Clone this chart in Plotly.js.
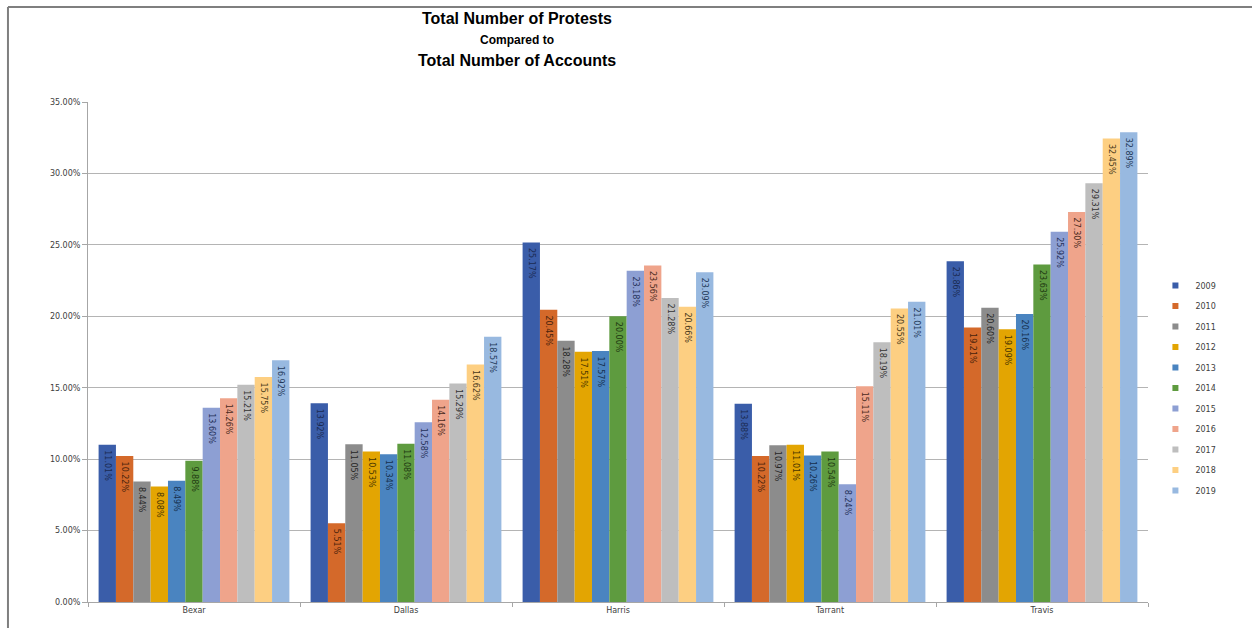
<!DOCTYPE html>
<html>
<head>
<meta charset="utf-8">
<script src="https://cdn.plot.ly/plotly-3.0.1.min.js"></script>
<style>
  html, body { margin: 0; padding: 0; background: #ffffff; }
  #chart { width: 1252px; height: 628px; }
</style>
</head>
<body>
<div id="chart"></div>
<script>
const counties = ["Bexar", "Dallas", "Harris", "Tarrant", "Travis"];
const years = ["2009", "2010", "2011", "2012", "2013", "2014", "2015", "2016", "2017", "2018", "2019"];

// Percent of accounts protested, per year, in county order above
const v2009 = [11.01, 13.92, 25.17, 13.88, 23.86];
const v2010 = [10.22, 5.51, 20.45, 10.22, 19.21];
const v2011 = [8.44, 11.05, 18.28, 10.97, 20.60];
const v2012 = [8.08, 10.53, 17.51, 11.01, 19.09];
const v2013 = [8.49, 10.34, 17.57, 10.26, 20.16];
const v2014 = [9.88, 11.08, 20.00, 10.54, 23.63];
const v2015 = [13.60, 12.58, 23.18, 8.24, 25.92];
const v2016 = [14.26, 14.16, 23.56, 15.11, 27.30];
const v2017 = [15.21, 15.29, 21.28, 18.19, 29.31];
const v2018 = [15.75, 16.62, 20.66, 20.55, 32.45];
const v2019 = [16.92, 18.57, 23.09, 21.01, 32.89];

const seriesValues = [v2009, v2010, v2011, v2012, v2013, v2014, v2015, v2016, v2017, v2018, v2019];
const colors = ["#3A5DA9", "#D4692A", "#8C8C8C", "#E3A502", "#4A84C0", "#5E9B3F",
                "#8D9FD3", "#EFA48B", "#BEBEBE", "#FDCF82", "#98B9E0"];
const labelColors = ["#1B2B52", "#4A230C", "#262626", "#4A3600", "#16304E", "#1E3A12",
                     "#26325A", "#4A2A20", "#333333", "#4A3A1A", "#24395A"];

const traces = years.map((yr, i) => ({
  type: "bar",
  name: yr,
  x: counties,
  y: seriesValues[i],
  marker: { color: colors[i], line: { width: 0 } },
  text: seriesValues[i].map(v => "\u00A0" + v.toFixed(2) + "%"),
  textposition: "inside",
  insidetextanchor: "end",
  textangle: 90,
  constraintext: "none",
  textfont: { family: "DejaVu Sans", size: 8, color: labelColors[i] },
  hoverinfo: "x+y+name",
  showlegend: false
}));

// legend-only proxies (small square keys like the original)
const legendKeys = years.map((yr, i) => ({
  type: "scatter",
  mode: "markers",
  name: yr,
  legendgroup: "g" + yr,
  x: [null],
  y: [null],
  marker: { symbol: "square", size: 6, color: colors[i] },
  hoverinfo: "skip",
  showlegend: true
}));

const titleFont = { family: "Liberation Sans", color: "#000000" };
const layout = {
  width: 1252,
  height: 628,
  paper_bgcolor: "#ffffff",
  plot_bgcolor: "#ffffff",
  margin: { l: 88, r: 104, t: 102, b: 26 },
  barmode: "group",
  bargap: 0.1,
  bargroupgap: 0,
  showlegend: true,
  legend: {
    x: 1.007, xanchor: "left",
    y: 0.428, yanchor: "middle",
    font: { family: "DejaVu Sans", size: 8, color: "#404040" },
    itemwidth: 30,
    traceorder: "grouped",
    tracegroupgap: 1.5,
    bgcolor: "rgba(0,0,0,0)"
  },
  xaxis: {
    type: "category",
    showline: true,
    linecolor: "#A6A6A6",
    linewidth: 1,
    ticks: "outside",
    tickson: "boundaries",
    ticklen: 4,
    tickcolor: "#A6A6A6",
    tickfont: { family: "DejaVu Sans", size: 8, color: "#404040" },
    showgrid: false,
    zeroline: false,
    fixedrange: true
  },
  yaxis: {
    range: [0, 35],
    dtick: 5,
    tickformat: ".2f",
    ticksuffix: "%",
    showline: true,
    linecolor: "#A6A6A6",
    linewidth: 1,
    ticks: "outside",
    ticklen: 5,
    tickcolor: "#A6A6A6",
    tickfont: { family: "DejaVu Sans", size: 8, color: "#404040" },
    showgrid: true,
    gridcolor: "#B4B4B4",
    gridwidth: 1,
    zeroline: false,
    fixedrange: true
  },
  annotations: [
    { text: "<b>Total Number of Protests</b>", xref: "paper", yref: "paper",
      x: 0.405, y: 1.168, xanchor: "center", yanchor: "middle", showarrow: false,
      font: Object.assign({ size: 16 }, titleFont) },
    { text: "<b>Compared to</b>", xref: "paper", yref: "paper",
      x: 0.405, y: 1.124, xanchor: "center", yanchor: "middle", showarrow: false,
      font: Object.assign({ size: 12 }, titleFont) },
    { text: "<b>Total Number of Accounts</b>", xref: "paper", yref: "paper",
      x: 0.405, y: 1.082, xanchor: "center", yanchor: "middle", showarrow: false,
      font: Object.assign({ size: 16 }, titleFont) }
  ],
  shapes: [
    { type: "line", xref: "paper", yref: "paper", layer: "above",
      x0: -0.0755, x1: 1.2, y0: 1.19, y1: 1.19,
      line: { color: "#7F7F7F", width: 2 } },
    { type: "line", xref: "paper", yref: "paper", layer: "above",
      x0: -0.0755, x1: -0.0755, y0: 1.19, y1: -0.06,
      line: { color: "#7F7F7F", width: 2 } }
  ]
};

Plotly.newPlot("chart", traces.concat(legendKeys), layout, { displayModeBar: false, staticPlot: true });
</script>
</body>
</html>
